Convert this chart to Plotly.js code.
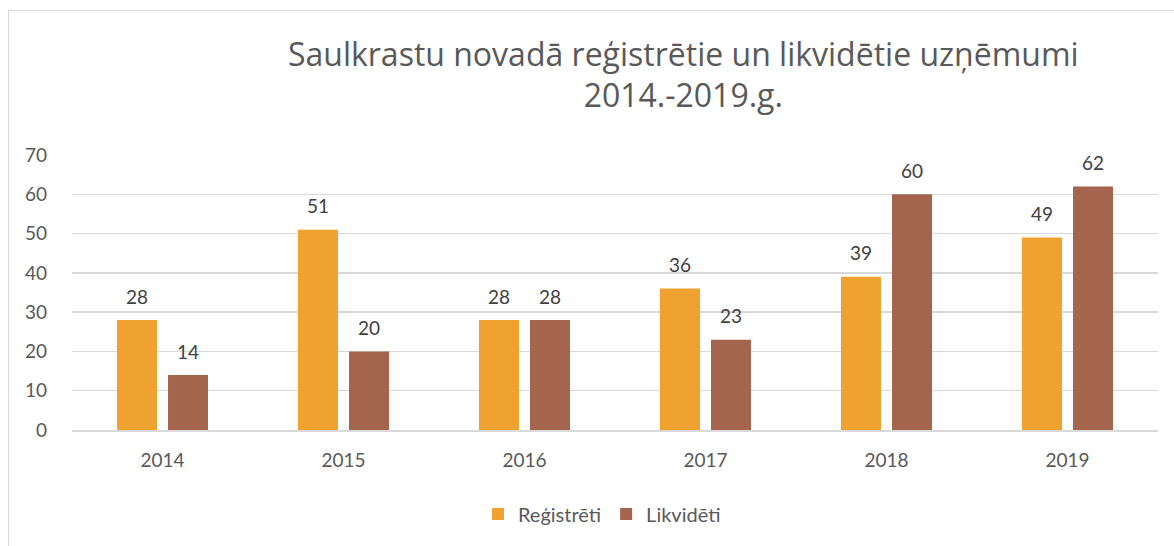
<!DOCTYPE html>
<html><head><meta charset="utf-8">
<script src="https://cdn.plot.ly/plotly-3.0.1.min.js"></script>
<style>
html,body{margin:0;padding:0;background:#fff;}
#wrap{position:relative;width:1174px;height:546px;overflow:hidden;}
#frame{position:absolute;left:8px;top:10px;width:1200px;height:600px;border-left:1px solid #d9d9d9;border-top:1px solid #d9d9d9;pointer-events:none;}
#chart{position:absolute;left:0;top:0;width:1174px;height:546px;}
svg text{font-variant-ligatures:none;}
</style></head>
<body><div id="wrap"><div id="chart"></div><div id="frame"></div></div>
<script>
const years = ['2014','2015','2016','2017','2018','2019'];
const registreti = [28, 51, 28, 36, 39, 49];
const likvideti = [14, 20, 28, 23, 60, 62];
const seriesNames = ['Reģistrēti', 'Likvidēti'];
const colors = ['#EFA22F', '#A5644D'];

const font = 'Lato, "Open Sans", sans-serif';
const titleFont = '"Open Sans", sans-serif';
const traces = [
  {type:'bar', name:seriesNames[0], x:years, y:registreti, marker:{color:colors[0]}},
  {type:'bar', name:seriesNames[1], x:years, y:likvideti, marker:{color:colors[1]}}
];
const annotations = [];
[registreti, likvideti].forEach((arr, si) => {
  arr.forEach((v, i) => {
    annotations.push({x:i, y:v, xref:'x', yref:'y', text:String(v), showarrow:false,
      xshift: si === 0 ? -25.5 : 25.5, yshift: 24, yanchor:'middle',
      font:{family:font, size:19, color:'#404040'}});
  });
});
const layout = {
  width:1174, height:546,
  margin:{l:72, r:16, t:155, b:116},
  paper_bgcolor:'rgba(0,0,0,0)', plot_bgcolor:'#fff',
  barmode:'group', bargap:0.436, bargroupgap:0.216,
  title:{text:'Saulkrastu novadā reģistrētie un likvidētie uzņēmumi<br>2014.-2019.g.',
    x:0.582, xref:'container', xanchor:'center', y:0.88, yref:'container', yanchor:'top',
    font:{family:titleFont, size:32, color:'#595959'}},
  xaxis:{type:'category', range:[-0.5,5.5], showgrid:false, showline:true, linecolor:'#d9d9d9', linewidth:1.5,
    ticks:'', tickfont:{family:font, size:19, color:'#595959'}, ticklabelstandoff:13},
  yaxis:{range:[0,70], dtick:10, showgrid:true, gridcolor:'#d9d9d9', gridwidth:1.5, zeroline:false,
    ticks:'', tickfont:{family:font, size:19, color:'#595959'}, ticklabelstandoff:24},
  showlegend:true,
  legend:{orientation:'h', x:0.488, xanchor:'center', y:-0.305, yanchor:'middle',
    font:{family:font, size:20, color:'#595959'}},
  annotations:annotations
};
Plotly.newPlot('chart', traces, layout, {displayModeBar:false, staticPlot:true});
</script></body></html>
